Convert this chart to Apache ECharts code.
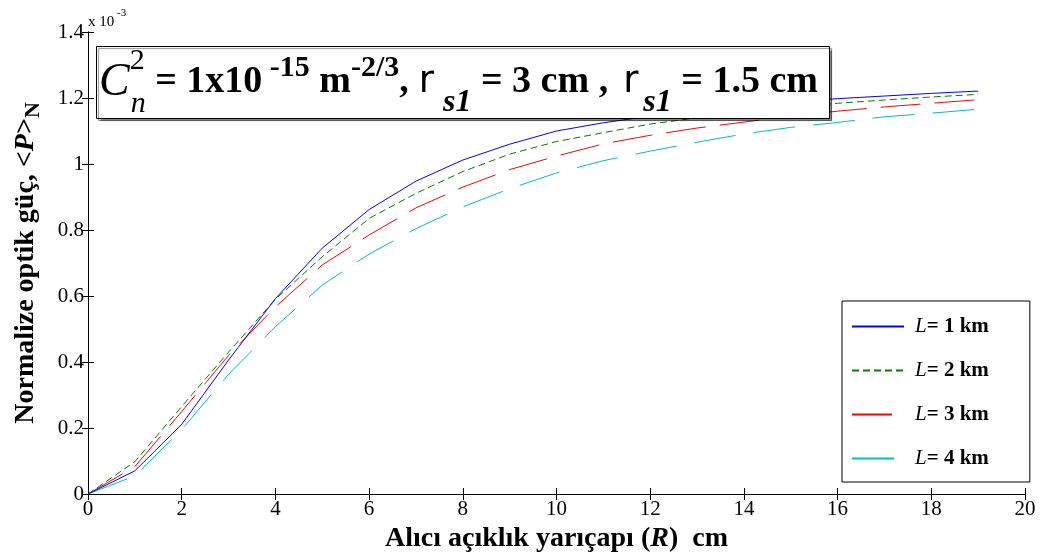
<!DOCTYPE html>
<html>
<head>
<meta charset="utf-8">
<script src="https://cdn.jsdelivr.net/npm/echarts@6/dist/echarts.min.js"></script>
<style>
html,body{margin:0;padding:0;background:#fff;}
#main{width:1046px;height:558px;}
</style>
</head>
<body>
<div id="main"></div>
<script type="text/javascript">
// alici acikligi yaricapi R (cm)
var radius = [0,1,2,3,4,5,6,7,8,9,10,11,12,13,14,15,16,17,18,19];
// normalize guc (x 10^-3)
var pL1 = [0,0.070,0.211,0.406,0.592,0.745,0.862,0.948,1.012,1.060,1.100,1.125,1.145,1.160,1.175,1.188,1.198,1.206,1.214,1.221];
var pL2 = [0,0.098,0.265,0.430,0.590,0.719,0.835,0.911,0.977,1.030,1.068,1.095,1.121,1.140,1.157,1.171,1.184,1.194,1.203,1.211];
var pL3 = [0,0.083,0.250,0.420,0.567,0.694,0.785,0.867,0.930,0.983,1.024,1.061,1.087,1.109,1.127,1.145,1.160,1.173,1.184,1.195];
var pL4 = [0,0.055,0.195,0.363,0.507,0.633,0.727,0.804,0.870,0.925,0.973,1.010,1.039,1.066,1.091,1.111,1.126,1.143,1.154,1.166];
var names = ['L= 1 km','L= 2 km','L= 3 km','L= 4 km'];
var xTicks = [0,2,4,6,8,10,12,14,16,18,20];
var yTicks = [0,0.2,0.4,0.6,0.8,1,1.2,1.4];

var serif = 'Liberation Serif';

function pairs(v){
    var out = [];
    for(var i = 0;i<radius.length;i++){
        out.push([radius[i], v[i]]);
    }
    return out;
}

var myChart = echarts.init(document.getElementById('main'));

var tickStyle = {show:true, inside:true, length:6, lineStyle:{color:'#000'}};
var lineAx = {show:true, lineStyle:{color:'#000', width:1}};

option = {
    backgroundColor:'#fff',
    animation:false,
    title : {
        text:'{C|C}{s2|2}{sn|n}{b| = 1x10}{sup| -15}{b| m}{sup|-2/3}{b|,}{r|r}{ss|s1}{b| = 3 cm ,}{r2|r}{ss2|s1}{b| = 1.5 cm}',
        left:96,
        top:46,
        padding:[0, 12, 0, 3],
        borderColor:'#000',
        borderWidth:1,
        backgroundColor:'#fff',
        shadowColor:'rgba(0,0,0,0.45)',
        shadowOffsetX:2,
        shadowOffsetY:2,
        shadowBlur:1,
        textStyle:{
            rich:{
                C:{fontFamily:serif, fontStyle:'italic', fontWeight:'normal', fontSize:46, lineHeight:73, color:'#000'},
                s2:{fontFamily:serif, fontWeight:'normal', fontSize:30, lineHeight:44, verticalAlign:'top', width:1, color:'#000'},
                sn:{fontFamily:serif, fontStyle:'italic', fontWeight:'normal', fontSize:30, lineHeight:32, verticalAlign:'bottom', color:'#000'},
                b:{fontFamily:serif, fontWeight:'bold', fontSize:38, lineHeight:73, color:'#000'},
                sup:{fontFamily:serif, fontWeight:'bold', fontSize:30, lineHeight:36, verticalAlign:'top', color:'#000', padding:[7,0,0,0]},
                r:{fontFamily:'DejaVu Sans', fontWeight:'normal', fontSize:37, lineHeight:73, color:'#000', padding:[0,0,0,10]},
                r2:{fontFamily:'DejaVu Sans', fontWeight:'normal', fontSize:37, lineHeight:73, color:'#000', padding:[0,0,0,15]},
                ss:{fontFamily:serif, fontWeight:'bold', fontStyle:'italic', fontSize:32, lineHeight:32, verticalAlign:'bottom', color:'#000', padding:[0,0,0,9]},
                ss2:{fontFamily:serif, fontWeight:'bold', fontStyle:'italic', fontSize:32, lineHeight:32, verticalAlign:'bottom', color:'#000', padding:[0,0,0,5]}
            }
        }
    },
    legend : {
        orient:'vertical',
        left:842,
        top:301,
        data:names,
        backgroundColor:'#fff',
        borderColor:'#000',
        borderWidth:1,
        padding:[15, 41, 13, 9],
        itemWidth:52,
        itemHeight:14,
        itemGap:23,
        itemStyle:{opacity:0},
        formatter:function(n){
            return '{i|L}{t|' + n.substring(1) + '}';
        },
        textStyle:{
            fontFamily:serif,
            fontSize:21,
            lineHeight:21,
            color:'#000',
            rich:{
                i:{fontFamily:serif, fontStyle:'italic', fontSize:21, color:'#000', padding:[0,0,0,6]},
                t:{fontFamily:serif, fontWeight:'bold', fontSize:21, color:'#000'}
            }
        }
    },
    graphic : [{
        type:'text',
        left:88,
        top:8,
        style:{
            text:'{a|x 10}{b| -3}',
            rich:{
                a:{fontFamily:serif, fontSize:15, lineHeight:22, verticalAlign:'bottom', fill:'#000'},
                b:{fontFamily:serif, fontSize:11, lineHeight:22, verticalAlign:'top', fill:'#000'}
            }
        }
    }],
    grid : {left:88, right:21, top:32, bottom:64},
    xAxis : [{
        type:'value',
        position:'bottom',
        min:0, max:20, interval:2,
        axisLine:lineAx,
        axisTick:tickStyle,
        splitLine:{show:false},
        axisLabel:{fontFamily:serif, fontSize:21, color:'#000', margin:5,
            customValues:xTicks},
        name:'{b|Alıcı açıklık yarıçapı (}{i|R}{b|)  cm}',
        nameLocation:'middle',
        nameGap:28,
        nameTextStyle:{
            rich:{
                b:{fontFamily:serif, fontWeight:'bold', fontSize:28, color:'#000'},
                i:{fontFamily:serif, fontWeight:'bold', fontStyle:'italic', fontSize:28, color:'#000'}
            }
        }
    },{
        type:'value',
        position:'top',
        min:0, max:20, interval:2,
        axisLine:lineAx,
        axisTick:tickStyle,
        axisLabel:{show:false},
        splitLine:{show:false}
    }],
    yAxis : [{
        type:'value',
        position:'left',
        min:0, max:1.4, interval:0.2,
        axisLine:lineAx,
        axisTick:tickStyle,
        splitLine:{show:false},
        axisLabel:{fontFamily:serif, fontSize:21, color:'#000', margin:4,
            customValues:yTicks},
        name:'{b|Normalize optik güç, <}{i|P}{b|>}{s|N}',
        nameLocation:'middle',
        nameGap:44,
        nameTextStyle:{
            rich:{
                b:{fontFamily:serif, fontWeight:'bold', fontSize:28, lineHeight:36, color:'#000'},
                i:{fontFamily:serif, fontWeight:'bold', fontStyle:'italic', fontSize:28, lineHeight:36, color:'#000'},
                s:{fontFamily:serif, fontWeight:'bold', fontSize:22, lineHeight:24, verticalAlign:'bottom', color:'#000'}
            }
        }
    },{
        type:'value',
        position:'right',
        min:0, max:1.4, interval:0.2,
        axisLine:lineAx,
        axisTick:tickStyle,
        axisLabel:{show:false},
        splitLine:{show:false}
    }],
    series : [
        {name:names[0], type:'line', data:pairs(pL1), symbol:'none', z:5,
            lineStyle:{color:'#0000ff', width:1, type:'solid'}, itemStyle:{color:'#0000ff'}},
        {name:names[1], type:'line', data:pairs(pL2), symbol:'none', z:4,
            lineStyle:{color:'#008000', width:1, type:[7,4]}, itemStyle:{color:'#008000'}},
        {name:names[2], type:'line', data:pairs(pL3), symbol:'none', z:3,
            lineStyle:{color:'#ff0000', width:1, type:[40,14]}, itemStyle:{color:'#ff0000'}},
        {name:names[3], type:'line', data:pairs(pL4), symbol:'none', z:2,
            lineStyle:{color:'#00bfbf', width:1, type:[42,18]}, itemStyle:{color:'#00bfbf'}}
    ]
};

myChart.setOption(option);
</script>
</body>
</html>
